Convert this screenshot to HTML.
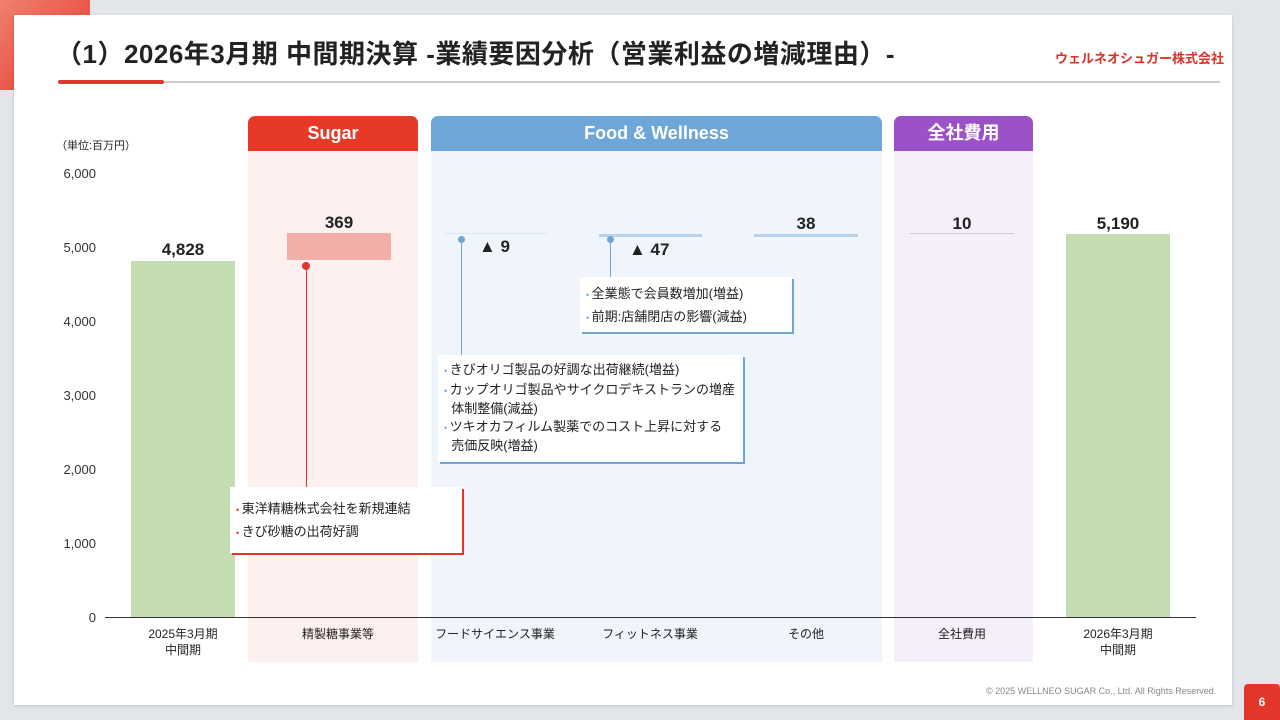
<!DOCTYPE html>
<html><head><meta charset="utf-8"><style>
*{margin:0;padding:0;box-sizing:border-box}
body{width:1280px;height:720px;background:#e2e5e9;position:relative;overflow:hidden;font-family:"Liberation Sans","Noto Sans CJK JP",sans-serif;color:#222}
.a{position:absolute}
.card{left:14px;top:15px;width:1218px;height:690px;background:#fff;box-shadow:0 1px 3px rgba(0,0,0,.15)}
.hdr{color:#fff;font-weight:bold;font-size:18px;text-align:center;line-height:35px;border-radius:7px 7px 0 0}
.yl{left:40px;width:56px;text-align:right;font-size:13px;color:#333}
.val{font-weight:bold;font-size:17px;text-align:center}
.xl{font-size:12px;text-align:center;line-height:16px;color:#222}
.box{background:#fff;font-size:13px;line-height:20px;padding:10px 8px;box-shadow:2px 2px 0 0;white-space:nowrap}
.box span{font-size:9px}
</style></head><body>
<div class="a" style="left:0;top:0;width:90px;height:90px;background:linear-gradient(135deg,#f08070,#e3362a)"></div>
<div class="a card"></div>
<div class="a" style="left:56px;top:34px;font-size:26px;font-weight:bold;color:#222;white-space:nowrap;letter-spacing:0.5px">（1）2026年3月期 中間期決算 -業績要因分析（営業利益の増減理由）-</div>
<div class="a" style="left:1055px;top:48px;font-size:13px;font-weight:bold;color:#d9342a;white-space:nowrap">ウェルネオシュガー株式会社</div>
<div class="a" style="left:60px;top:81px;width:1160px;height:2px;background:#ccc"></div>
<div class="a" style="left:58px;top:80px;width:106px;height:4px;background:#e3362a;border-radius:2px"></div>

<div class="a hdr" style="left:248px;top:116px;width:170px;height:35px;background:#e63a26">Sugar</div>
<div class="a" style="left:248px;top:151px;width:170px;height:511px;background:#fdf0ee"></div>
<div class="a hdr" style="left:431px;top:116px;width:451px;height:35px;background:#6ea6d8">Food &amp; Wellness</div>
<div class="a" style="left:431px;top:151px;width:451px;height:511px;background:#eff5fb"></div>
<div class="a hdr" style="left:894px;top:116px;width:139px;height:35px;background:#9b52c9">全社費用</div>
<div class="a" style="left:894px;top:151px;width:139px;height:511px;background:#f4eff9"></div>

<div class="a" style="left:56px;top:137px;font-size:11px">（単位:百万円）</div>
<div class="a yl" style="top:166px">6,000</div>
<div class="a yl" style="top:240px">5,000</div>
<div class="a yl" style="top:314px">4,000</div>
<div class="a yl" style="top:388px">3,000</div>
<div class="a yl" style="top:462px">2,000</div>
<div class="a yl" style="top:536px">1,000</div>
<div class="a yl" style="top:610px">0</div>

<div class="a" style="left:131px;top:261px;width:104px;height:356px;background:#c4ddb0"></div>
<div class="a val" style="left:131px;top:240px;width:104px">4,828</div>
<div class="a" style="left:287px;top:233px;width:104px;height:27px;background:#f4aea8"></div>
<div class="a val" style="left:287px;top:213px;width:104px">369</div>
<div class="a" style="left:444px;top:233px;width:103px;height:1px;background:#dde6ef"></div>
<div class="a val" style="left:479px;top:237px">▲ 9</div>
<div class="a" style="left:599px;top:234px;width:103px;height:3px;background:#b7d2ec"></div>
<div class="a val" style="left:629px;top:240px">▲ 47</div>
<div class="a" style="left:754px;top:234px;width:104px;height:3px;background:#b7d2ec"></div>
<div class="a val" style="left:754px;top:214px;width:104px">38</div>
<div class="a" style="left:910px;top:233px;width:104px;height:1px;background:#ccc"></div>
<div class="a val" style="left:910px;top:214px;width:104px">10</div>
<div class="a" style="left:1066px;top:234px;width:104px;height:383px;background:#c4ddb0"></div>
<div class="a val" style="left:1066px;top:214px;width:104px">5,190</div>
<div class="a" style="left:105px;top:617px;width:1091px;height:1px;background:#333"></div>

<div class="a" style="left:306px;top:265px;width:1px;height:222px;background:#e3362a"></div>
<div class="a" style="left:302px;top:262px;width:8px;height:8px;border-radius:50%;background:#e3362a"></div>
<div class="a" style="left:461px;top:239px;width:1px;height:118px;background:#6ea6d8"></div>
<div class="a" style="left:458px;top:236px;width:7px;height:7px;border-radius:50%;background:#6ea6d8"></div>
<div class="a" style="left:610px;top:239px;width:1px;height:38px;background:#6ea6d8"></div>
<div class="a" style="left:607px;top:236px;width:7px;height:7px;border-radius:50%;background:#6ea6d8"></div>

<div class="a box" style="left:230px;top:487px;width:232px;height:66px;color:#e3362a;padding:11px 6px"><div style="color:#222;line-height:22px"><span style="color:#e3362a">• </span>東洋精糖株式会社を新規連結</div><div style="color:#222;line-height:22px"><span style="color:#e3362a">• </span>きび砂糖の出荷好調</div></div>
<div class="a box" style="left:438px;top:355px;width:305px;height:107px;color:#6ea6d8;padding:5px 6px;line-height:18px"><div style="color:#222;line-height:19px"><span style="color:#6ea6d8">• </span>きびオリゴ製品の好調な出荷継続(増益)</div><div style="color:#222;line-height:18px"><span style="color:#6ea6d8">• </span>カップオリゴ製品やサイクロデキストランの増産<br>&nbsp;&nbsp;体制整備(減益)</div><div style="color:#222;line-height:18px"><span style="color:#6ea6d8">• </span>ツキオカフィルム製薬でのコスト上昇に対する<br>&nbsp;&nbsp;売価反映(増益)</div></div>
<div class="a box" style="left:580px;top:277px;width:212px;height:55px;color:#6ea6d8;padding:6px 6px"><div style="color:#222;line-height:21px"><span style="color:#6ea6d8">• </span>全業態で会員数増加(増益)</div><div style="color:#222;line-height:21px"><span style="color:#6ea6d8">• </span>前期:店舗閉店の影響(減益)</div></div>

<div class="a xl" style="left:123px;top:626px;width:120px">2025年3月期<br>中間期</div>
<div class="a xl" style="left:273px;top:626px;width:130px">精製糖事業等</div>
<div class="a xl" style="left:430px;top:626px;width:130px">フードサイエンス事業</div>
<div class="a xl" style="left:585px;top:626px;width:130px">フィットネス事業</div>
<div class="a xl" style="left:741px;top:626px;width:130px">その他</div>
<div class="a xl" style="left:897px;top:626px;width:130px">全社費用</div>
<div class="a xl" style="left:1058px;top:626px;width:120px">2026年3月期<br>中間期</div>

<div class="a" style="left:986px;top:686px;font-size:9px;color:#888">© 2025 WELLNEO SUGAR Co., Ltd. All Rights Reserved.</div>
<div class="a" style="left:1244px;top:684px;width:36px;height:36px;background:#e3362a;border-radius:4px 4px 0 0;color:#fff;font-weight:bold;font-size:12px;text-align:center;line-height:36px">6</div>
</body></html>
